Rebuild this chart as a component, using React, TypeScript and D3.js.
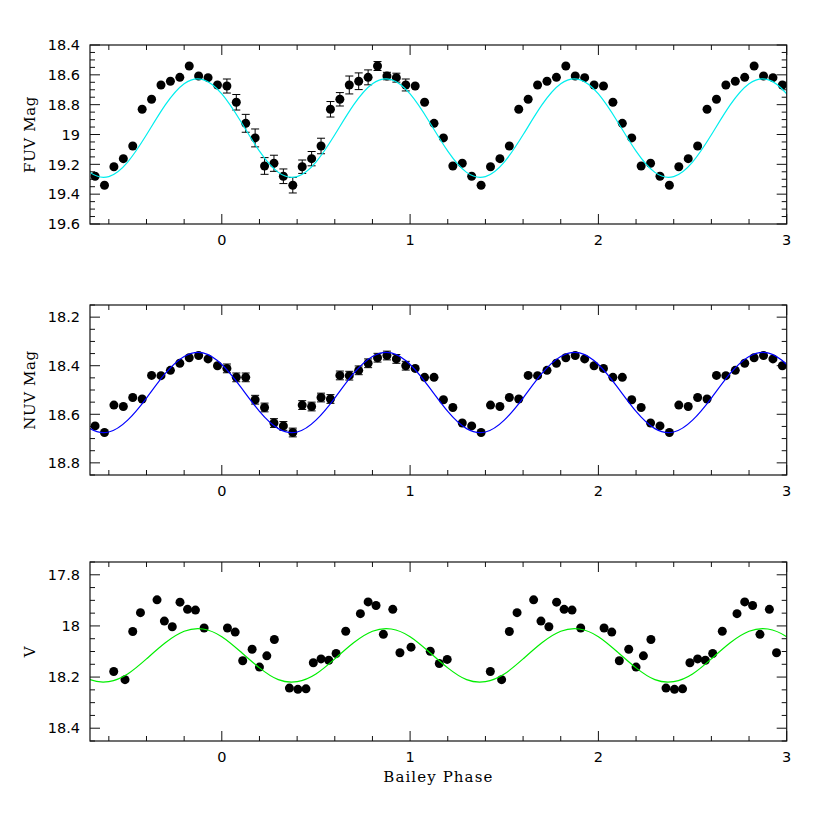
import React from "react";
import * as d3 from "d3";

// ---------- data ----------
const xTickValues = [0, 1, 2, 3];
const xTickLabels = ["0", "1", "2", "3"];

// one cycle of FUV / NUV observations (Bailey phase 0..1)
const uvPhases = [0.027, 0.077, 0.127, 0.177, 0.227, 0.277, 0.327, 0.377, 0.427, 0.477,
  0.527, 0.577, 0.627, 0.677, 0.727, 0.777, 0.827, 0.877, 0.927, 0.977];
const fuvMags = [18.675, 18.784, 18.925, 19.023, 19.211, 19.193, 19.28, 19.34, 19.216, 19.162,
  19.077, 18.831, 18.764, 18.668, 18.643, 18.617, 18.541, 18.608, 18.619, 18.668];
const fuvErrs = [0.047, 0.052, 0.06, 0.06, 0.056, 0.054, 0.049, 0.052, 0.045, 0.048,
  0.052, 0.052, 0.045, 0.06, 0.056, 0.05, 0.03, 0.025, 0.03, 0.04];
const nuvMags = [18.411, 18.448, 18.448, 18.54, 18.572, 18.636, 18.648, 18.675, 18.562, 18.568,
  18.531, 18.537, 18.44, 18.441, 18.419, 18.39, 18.367, 18.358, 18.372, 18.4];
const nuvErrs = [0.018, 0.018, 0.018, 0.018, 0.018, 0.018, 0.018, 0.018, 0.018, 0.018,
  0.018, 0.018, 0.018, 0.018, 0.018, 0.018, 0.018, 0.018, 0.018, 0.018];

// V observations (phase 0..2)
const vPhases = [0.03, 0.071, 0.111, 0.161, 0.2, 0.239, 0.279, 0.359, 0.404, 0.447,
  0.486, 0.527, 0.568, 0.607, 0.658, 0.736, 0.777, 0.819, 0.858, 0.908, 0.946,
  1.005, 1.107, 1.155, 1.197, 1.426, 1.486, 1.527, 1.568, 1.656, 1.695, 1.737,
  1.778, 1.818, 1.86, 1.906];
const vMags = [18.008, 18.024, 18.136, 18.091, 18.161, 18.117, 18.053, 18.243, 18.248, 18.246,
  18.144, 18.129, 18.134, 18.108, 18.021, 17.952, 17.906, 17.92, 18.033, 17.935, 18.105,
  18.083, 18.099, 18.147, 18.131, 18.178, 18.21, 18.022, 17.948, 17.898, 17.981, 18.003,
  17.907, 17.935, 17.938, 18.008];

// fitted model curves, sampled over one cycle
const modelPhases = [0, 0.1, 0.2, 0.3, 0.4, 0.5, 0.6, 0.7, 0.8, 0.9];
const fuvModel = [18.728, 18.911, 19.112, 19.254, 19.282, 19.185, 19.002, 18.802, 18.66, 18.632];
const nuvModel = [18.395, 18.487, 18.588, 18.659, 18.673, 18.624, 18.533, 18.432, 18.362, 18.347];
const vModel = [18.042, 18.101, 18.164, 18.21, 18.218, 18.188, 18.129, 18.066, 18.021, 18.012];

const fuvYTicks = [18.4, 18.6, 18.8, 19, 19.2, 19.4, 19.6];
const fuvYLabels = ["18.4", "18.6", "18.8", "19", "19.2", "19.4", "19.6"];
const nuvYTicks = [18.2, 18.4, 18.6, 18.8];
const nuvYLabels = ["18.2", "18.4", "18.6", "18.8"];
const vYTicks = [17.8, 18, 18.2, 18.4];
const vYLabels = ["17.8", "18", "18.2", "18.4"];

// ---------- layout ----------
const X0 = 90;
const X1 = 786.7;
const XDOM: [number, number] = [-0.7, 3];
const x = d3.scaleLinear().domain(XDOM).range([X0, X1]);
const TICK_FONT = "'DejaVu Sans', sans-serif";
const TITLE_FONT = "'DejaVu Serif', serif";

type Pt = { px: number; m: number; e: number };

function buildPoints(phases: number[], mags: number[], errs: number[] | null, period: number, shifts: number[]): Pt[] {
  const out: Pt[] = [];
  shifts.forEach((s) => {
    phases.forEach((p, i) => {
      const px = p + s * period;
      if (px >= XDOM[0] && px <= XDOM[1]) {
        out.push({ px, m: mags[i], e: s === 0 && errs ? errs[i] : 0 });
      }
    });
  });
  return out;
}

function buildModel(vals: number[]): [number, number][] {
  const out: [number, number][] = [];
  for (let s = -2; s <= 4; s++) {
    modelPhases.forEach((p, i) => {
      const px = p + s;
      if (px >= -1.5 && px <= 3.8) out.push([px, vals[i]]);
    });
  }
  return out.sort((a, b) => a[0] - b[0]);
}

function minorRange(lo: number, hi: number, step: number): number[] {
  const out: number[] = [];
  const a = Math.ceil(lo / step - 1e-6);
  const b = Math.floor(hi / step + 1e-6);
  for (let k = a; k <= b; k++) out.push(+(k * step).toFixed(6));
  return out;
}

type PanelProps = {
  id: string;
  top: number;
  bottom: number;
  domain: [number, number];
  yTicks: number[];
  yLabels: string[];
  points: Pt[];
  model: [number, number][];
  color: string;
  title: string;
  xTitle?: string;
};

function Panel(props: PanelProps) {
  const { id, top, bottom, domain, yTicks, yLabels, points, model, color, title, xTitle } = props;
  const y = d3.scaleLinear().domain(domain).range([top, bottom]);
  const line = d3
    .line<[number, number]>()
    .x((d) => x(d[0]))
    .y((d) => y(d[1]))
    .curve(d3.curveNatural);
  const xMinor = minorRange(XDOM[0], XDOM[1], 0.2).filter((v) => !xTickValues.some((t) => Math.abs(t - v) < 1e-6));
  const yMinor = minorRange(domain[0], domain[1], 0.05).filter((v) => !yTicks.some((t) => Math.abs(t - v) < 1e-6));
  const MAJ = 10;
  const MIN = 5;
  const stroke = "#111";
  return (
    <g>
      <defs>
        <clipPath id={`clip-${id}`}>
          <rect x={X0} y={top} width={X1 - X0} height={bottom - top} />
        </clipPath>
      </defs>
      <g stroke={stroke} strokeWidth={1}>
        {xTickValues.map((t) => (
          <g key={`xm${t}`}>
            <line x1={x(t)} x2={x(t)} y1={bottom} y2={bottom - MAJ} />
            <line x1={x(t)} x2={x(t)} y1={top} y2={top + MAJ} />
          </g>
        ))}
        {xMinor.map((t) => (
          <g key={`xn${t}`}>
            <line x1={x(t)} x2={x(t)} y1={bottom} y2={bottom - MIN} />
            <line x1={x(t)} x2={x(t)} y1={top} y2={top + MIN} />
          </g>
        ))}
        {yTicks.map((t) => (
          <g key={`ym${t}`}>
            <line x1={X0} x2={X0 + MAJ} y1={y(t)} y2={y(t)} />
            <line x1={X1} x2={X1 - MAJ} y1={y(t)} y2={y(t)} />
          </g>
        ))}
        {yMinor.map((t) => (
          <g key={`yn${t}`}>
            <line x1={X0} x2={X0 + MIN} y1={y(t)} y2={y(t)} />
            <line x1={X1} x2={X1 - MIN} y1={y(t)} y2={y(t)} />
          </g>
        ))}
      </g>
      <g fontFamily={TICK_FONT} fontSize={14.5} fill="#000">
        {yTicks.map((t, i) => (
          <text key={`yl${t}`} x={80} y={y(t)} dy="0.36em" textAnchor="end">
            {yLabels[i]}
          </text>
        ))}
        {xTickValues.map((t, i) => (
          <text key={`xl${t}`} x={x(t)} y={bottom + 20.5} textAnchor="middle">
            {xTickLabels[i]}
          </text>
        ))}
      </g>
      <text
        fontFamily={TITLE_FONT}
        fontSize={15}
        letterSpacing={0.6}
        textAnchor="middle"
        transform={`translate(35,${(top + bottom) / 2}) rotate(-90)`}
      >
        {title}
      </text>
      {xTitle && (
        <text
          fontFamily={TITLE_FONT}
          fontSize={15}
          letterSpacing={1.1}
          textAnchor="middle"
          x={(X0 + X1) / 2}
          y={781.5}
        >
          {xTitle}
        </text>
      )}
      <g stroke="#000" strokeWidth={1}>
        {points
          .filter((p) => p.e > 0)
          .map((p, i) => {
            const cx = x(p.px);
            const y1 = y(p.m - p.e);
            const y2 = y(p.m + p.e);
            return (
              <g key={`e${i}`}>
                <line x1={cx} x2={cx} y1={y1} y2={y2} />
                <line x1={cx - 4} x2={cx + 4} y1={y1} y2={y1} />
                <line x1={cx - 4} x2={cx + 4} y1={y2} y2={y2} />
              </g>
            );
          })}
      </g>
      <g fill="#000">
        {points.map((p, i) => (
          <circle key={`p${i}`} cx={x(p.px)} cy={y(p.m)} r={4.5} />
        ))}
      </g>
      <path
        d={line(model) || ""}
        fill="none"
        stroke={color}
        strokeWidth={1.2}
        clipPath={`url(#clip-${id})`}
      />
      <rect x={X0} y={top} width={X1 - X0} height={bottom - top} fill="none" stroke={stroke} strokeWidth={1.2} />
    </g>
  );
}

export default function App() {
  const fuvPts = buildPoints(uvPhases, fuvMags, fuvErrs, 1, [-1, 0, 1, 2]);
  const nuvPts = buildPoints(uvPhases, nuvMags, nuvErrs, 1, [-1, 0, 1, 2]);
  const vPts = buildPoints(vPhases, vMags, null, 2, [-1, 0, 1]);
  return (
    <svg
      width={830}
      height={830}
      viewBox="0 0 830 830"
      style={{ position: "absolute", left: 0, top: 0, background: "#fff" }}
    >
      <rect x={0} y={0} width={830} height={830} fill="#fff" />
      <Panel
        id="fuv"
        top={45}
        bottom={224}
        domain={[18.4, 19.6]}
        yTicks={fuvYTicks}
        yLabels={fuvYLabels}
        points={fuvPts}
        model={buildModel(fuvModel)}
        color="#00eeee"
        title="FUV Mag"
      />
      <Panel
        id="nuv"
        top={305}
        bottom={475}
        domain={[18.15, 18.85]}
        yTicks={nuvYTicks}
        yLabels={nuvYLabels}
        points={nuvPts}
        model={buildModel(nuvModel)}
        color="#0000ff"
        title="NUV Mag"
      />
      <Panel
        id="v"
        top={562}
        bottom={741}
        domain={[17.75, 18.45]}
        yTicks={vYTicks}
        yLabels={vYLabels}
        points={vPts}
        model={buildModel(vModel)}
        color="#00ee00"
        title="V"
        xTitle="Bailey Phase"
      />
    </svg>
  );
}
